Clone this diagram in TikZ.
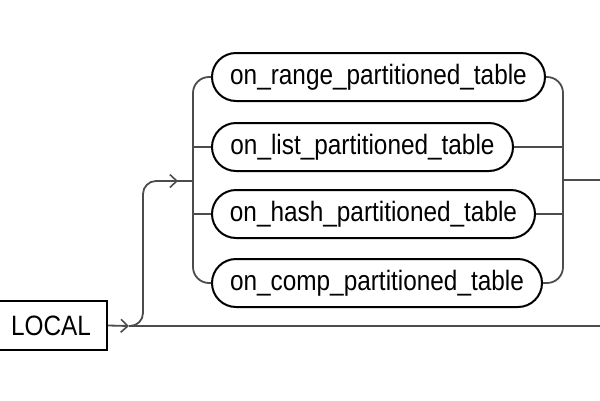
\documentclass[tikz,border=0pt]{standalone}
\usepackage{fontspec}
\setmainfont[FakeStretch=0.87]{Liberation Sans}
\usetikzlibrary{arrows.meta}
\begin{document}
\begin{tikzpicture}[x=1pt,y=-1pt,
  conn/.style={draw=black!70,line width=1.8pt},
  tipline/.style={conn,-{Straight Barb[length=7pt,width=13pt,line width=1.6pt]}},
  nterm/.style={draw=black,line width=2pt,rounded corners=24pt,minimum height=48pt,inner sep=0pt,
    font=\fontsize{28}{30}\selectfont},
  kw/.style={draw=black,line width=2pt,minimum height=49pt,minimum width=112pt,inner sep=0pt,
    font=\fontsize{28}{30}\selectfont}]
\useasboundingbox (0,0) rectangle (600,400);
\node[kw] (local) at (51,325.5) {LOCAL};
\node[nterm,minimum width=333pt] (n1) at (378.5,77) {on\_range\_partitioned\_table};
\node[nterm,minimum width=301pt] (n2) at (362.5,147) {on\_list\_partitioned\_table};
\node[nterm,minimum width=323pt] (n3) at (373.5,214) {on\_hash\_partitioned\_table};
\node[nterm,minimum width=330pt] (n4) at (377,283) {on\_comp\_partitioned\_table};
\coordinate (a1) at (129,326);
\coordinate (bend) at (143,326);
\coordinate (up) at (143,181);
\coordinate (a2) at (178,181);
\coordinate (lj) at (193,181);
\coordinate (l2) at (193,147);
\coordinate (l3) at (193,214);
\coordinate (r2) at (563,147);
\coordinate (r3) at (563,214);
\coordinate (rj) at (563,180);
\coordinate (out1) at (600,180);
\coordinate (out2) at (600,326);
% main line
\draw[tipline] (local.east) -- (a1);
\draw[conn] (a1) -- (out2);
% branch up
\draw[conn,rounded corners=13pt] (a1) -- (bend) -- (up) -- (a2);
\draw[tipline] (up) ++(20,0) -- (a2);
\draw[conn] (a2) -- (lj);
% left bar
\draw[conn,rounded corners=16pt] (n1.west) -| (l3) |- (n4.west);
\draw[conn] (l2) -- (n2.west);
\draw[conn] (l3) -- (n3.west);
% right bar
\draw[conn,rounded corners=16pt] (n1.east) -| (r3) |- (n4.east);
\draw[conn] (n2.east) -- (r2);
\draw[conn] (n3.east) -- (r3);
\draw[conn] (rj) -- (out1);
\end{tikzpicture}
\end{document}
